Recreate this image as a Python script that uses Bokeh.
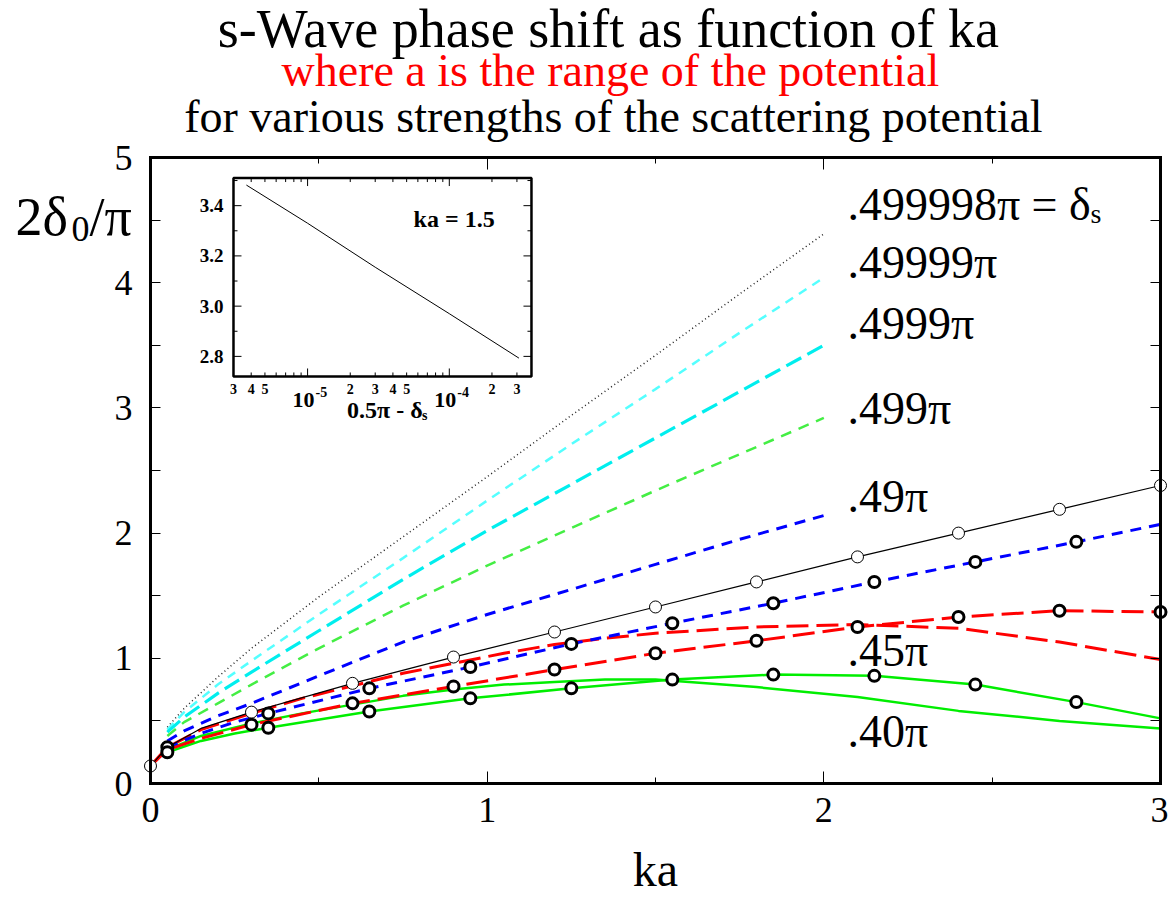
import numpy as np
from bokeh.plotting import figure
from bokeh.models import (Range1d, LinearAxis, FixedTicker, CoordinateMapping,
                          LogScale, LinearScale)
from bokeh.core.properties import value
from bokeh.embed import file_html
from bokeh.resources import INLINE

# ---------------- data ----------------
ka_upper = [0.05, 0.1, 0.2, 0.3, 0.5, 0.75, 1.0, 1.25, 1.5, 1.75, 2.0]
y_499998 = [0.45, 0.60, 0.85, 1.08, 1.49, 1.97, 2.45, 2.94, 3.42, 3.91, 4.39]
y_49999 = [0.43, 0.57, 0.79, 0.98, 1.35, 1.80, 2.26, 2.71, 3.15, 3.60, 4.04]
y_4999 = [0.41, 0.53, 0.72, 0.89, 1.22, 1.63, 2.02, 2.39, 2.76, 3.13, 3.50]
y_499 = [0.38, 0.49, 0.64, 0.79, 1.08, 1.42, 1.74, 2.04, 2.34, 2.63, 2.92]
y_49 = [0.34, 0.42, 0.54, 0.64, 0.86, 1.13, 1.35, 1.55, 1.75, 1.95, 2.14]

ka_black = [0, 0.05, 0.15, 0.3, 0.6, 0.9, 1.2, 1.5, 1.8, 2.1, 2.4, 2.7, 3.0]
y_black = [0.14, 0.29, 0.44, 0.57, 0.80, 1.01, 1.21, 1.41, 1.61, 1.81, 2.00, 2.19, 2.38]
ka_black_pts = [0, 0.3, 0.6, 0.9, 1.2, 1.5, 1.8, 2.1, 2.4, 2.7, 3.0]
y_black_pts = [0.14, 0.57, 0.80, 1.01, 1.21, 1.41, 1.61, 1.81, 2.00, 2.19, 2.38]

ka_blue = [0.05, 0.15, 0.25, 0.35, 0.65, 0.95, 1.25, 1.55, 1.85, 2.15, 2.45, 2.75, 3.0]
y_blue = [0.29, 0.40, 0.49, 0.56, 0.76, 0.93, 1.115, 1.28, 1.44, 1.61, 1.77, 1.93, 2.07]
ka_blue_pts = [0.05, 0.35, 0.65, 0.95, 1.25, 1.55, 1.85, 2.15, 2.45, 2.75]
y_blue_pts = [0.29, 0.56, 0.76, 0.93, 1.115, 1.28, 1.44, 1.61, 1.77, 1.93]

ka_red_c = [0, 0.05, 0.15, 0.3, 0.6, 0.9, 1.2, 1.5, 1.8, 2.1, 2.4, 2.7, 3.0]
y_red_c = [0.14, 0.27, 0.36, 0.47, 0.64, 0.775, 0.91, 1.04, 1.14, 1.25, 1.33, 1.38, 1.37]
ka_red_pts = [0.3, 0.6, 0.9, 1.2, 1.5, 1.8, 2.1, 2.4, 2.7, 3.0]
y_red_pts = [0.47, 0.64, 0.775, 0.91, 1.04, 1.14, 1.25, 1.33, 1.38, 1.37]

ka_red_u = [0, 0.05, 0.15, 0.3, 0.45, 0.6, 0.75, 0.9, 1.05, 1.2, 1.35, 1.5, 1.8, 2.1, 2.4, 2.7, 3.0]
y_red_u = [0.14, 0.29, 0.43, 0.56, 0.68, 0.78, 0.88, 0.96, 1.04, 1.11, 1.16, 1.20, 1.25, 1.27, 1.24, 1.13, 0.99]

ka_green_c = [0.05, 0.15, 0.25, 0.35, 0.65, 0.95, 1.25, 1.55, 1.85, 2.15, 2.45, 2.75, 3.0]
y_green_c = [0.25, 0.34, 0.40, 0.445, 0.575, 0.68, 0.76, 0.83, 0.87, 0.86, 0.79, 0.65, 0.52]
ka_green_pts = [0.05, 0.35, 0.65, 0.95, 1.25, 1.55, 1.85, 2.15, 2.45, 2.75]
y_green_pts = [0.25, 0.445, 0.575, 0.68, 0.76, 0.83, 0.87, 0.86, 0.79, 0.65]

ka_green_u = [0.05, 0.15, 0.3, 0.45, 0.6, 0.75, 0.9, 1.05, 1.2, 1.35, 1.5, 1.8, 2.1, 2.4, 2.7, 3.0]
y_green_u = [0.27, 0.38, 0.48, 0.56, 0.63, 0.70, 0.75, 0.79, 0.81, 0.83, 0.83, 0.77, 0.69, 0.58, 0.50, 0.44]

curve_labels = [".499998\u03c0 = \u03b4", ".49999\u03c0", ".4999\u03c0", ".499\u03c0", ".49\u03c0", ".45\u03c0", ".40\u03c0"]

x_ticks = [0, 1, 2, 3]
x_minor = [0.5, 1.5, 2.5]
y_ticks = [0, 1, 2, 3, 4, 5]
y_minor = [0.5, 1.5, 2.5, 3.5, 4.5]

# inset: 2*delta0/pi at ka = 1.5 versus 0.5*pi - delta_s
inset_x = [3.7e-6, 1e-5, 3e-5, 1e-4, 3.1e-4]
inset_y = [3.482, 3.33, 3.155, 2.97, 2.793]
inset_xmajor = [1e-5, 1e-4]
inset_xminor = [3e-6, 4e-6, 5e-6, 6e-6, 7e-6, 8e-6, 9e-6,
                2e-5, 3e-5, 4e-5, 5e-5, 6e-5, 7e-5, 8e-5, 9e-5, 2e-4, 3e-4]
inset_xlab_pos = [3e-6, 4e-6, 5e-6, 2e-5, 3e-5, 4e-5, 5e-5, 2e-4, 3e-4]
inset_xlab = ["3", "4", "5", "2", "3", "4", "5", "2", "3"]
inset_dec_lab = ["-5", "-4"]
inset_ymajor = [2.8, 3.0, 3.2, 3.4]
inset_ylab = ["2.8", "3.0", "3.2", "3.4"]
inset_yminor = [2.9, 3.1, 3.3, 3.5]

FONT = "Liberation Serif"
MID = 0.3375   # distance (in em) between the text box middle and the alphabetic baseline

# ---------------- figure: frame fills the canvas, axes sit at fixed data locations ----------------
X_LO, X_HI = -150 / 336.67, 3 + 8 / 336.67
Y_LO, Y_HI = -115 / 125.2, 5 + 157 / 125.2
p = figure(width=1168, height=898, x_range=Range1d(X_LO, X_HI), y_range=Range1d(Y_LO, Y_HI),
           output_backend="svg", toolbar_location=None,
           x_axis_location=None, y_axis_location=None, min_border=0)
p.grid.visible = False
p.outline_line_color = None
p.background_fill_color = "white"
p.border_fill_color = "white"

xt = FixedTicker(ticks=x_ticks, minor_ticks=x_minor)
yt = FixedTicker(ticks=y_ticks, minor_ticks=y_minor)


def make_axis(loc, side, ticker, bounds, labels, major_in, minor_in, standoff):
    ax = LinearAxis(fixed_location=loc, bounds=bounds, ticker=ticker)
    ax.axis_line_width = 3
    ax.axis_line_color = "black"
    ax.axis_line_cap = "square"
    ax.major_tick_in = major_in
    ax.major_tick_out = 0
    ax.minor_tick_in = minor_in
    ax.minor_tick_out = 0
    ax.major_tick_line_color = "black"
    ax.minor_tick_line_color = "black"
    ax.major_label_text_font = FONT
    ax.major_label_standoff = standoff
    if labels:
        ax.major_label_text_font_size = "36px"
        ax.major_label_text_color = "black"
    else:
        ax.major_label_text_font_size = "0px"
        ax.major_label_text_color = None
        ax.major_label_standoff = 0
    p.add_layout(ax, side)
    return ax


make_axis(0, "below", xt, (0, 3), True, 12, 6, 14)
make_axis(5, "above", xt, (0, 3), False, 12, 6, 0)
make_axis(0, "left", yt, (0, 5), True, 10, 10, 18)
make_axis(3, "right", yt, (0, 5), False, 10, 10, 0)


def txt(x, y, text, size, color="black", align="left", xo=0, yo=0, bold=False, coords=None):
    """Text whose baseline sits at (x, y) shifted by yo px downwards."""
    r = p.text(x=x, y=y, text=text, text_font=value(FONT), text_font_size="%dpx" % size,
               text_font_style="bold" if bold else "normal", text_color=color,
               text_align=align, text_baseline="middle",
               x_offset=xo, y_offset=yo - MID * size)
    if coords is not None:
        r.coordinates = coords
    return r


# ---------------- curves ----------------
p.line(ka_upper, y_499998, line_color="#222222", line_width=1.5, line_dash="1 3")
p.line(ka_upper, y_49999, line_color="#55ffff", line_width=2.5, line_dash="9 7")
p.line(ka_upper, y_4999, line_color="#00eeee", line_width=3.2, line_dash="17 7")
p.line(ka_upper, y_499, line_color="#44ee44", line_width=2.5, line_dash="11 8")
p.line(ka_upper, y_49, line_color="#0000ff", line_width=3, line_dash="11 8")

p.line(ka_green_u, y_green_u, line_color="#00ee00", line_width=2.5)
p.line(ka_green_c, y_green_c, line_color="#00ee00", line_width=2.5)
p.line(ka_red_u, y_red_u, line_color="#ff0000", line_width=3, line_dash="22 8")
p.line(ka_red_c, y_red_c, line_color="#ff0000", line_width=3, line_dash="22 8")
p.line(ka_blue, y_blue, line_color="#0000ff", line_width=3, line_dash="11 8")
p.line(ka_black, y_black, line_color="black", line_width=1.2)

p.scatter(ka_black_pts, y_black_pts, size=12, fill_color="white", line_color="black", line_width=1)
for kx, ky in [(ka_blue_pts, y_blue_pts), (ka_red_pts, y_red_pts), (ka_green_pts, y_green_pts)]:
    p.scatter(kx, ky, size=11, fill_color="white", line_color="black", line_width=3)

# curve labels (text positions are layout constants)
lab_y = [4.50, 4.04, 3.55, 2.875, 2.17, 0.94, 0.29]
txt([2.07] * len(curve_labels), lab_y, curve_labels, 46)
txt([2.07], [4.50], ["s"], 28, xo=243, yo=3)

# ---------------- inset (own sub-coordinate system) ----------------
ixr = Range1d(3e-6, 3.8e-4)
iyr = Range1d(2.72, 3.51)
cm = CoordinateMapping(x_source=ixr, y_source=iyr, x_scale=LogScale(), y_scale=LinearScale(),
                       x_target=Range1d(0.2465, 1.1316), y_target=Range1d(3.251, 4.836))


def sub(r):
    r.coordinates = cm
    return r


sub(p.quad(left=[ixr.start], right=[ixr.end], bottom=[iyr.start], top=[iyr.end],
           fill_color="white", line_color="black", line_width=2.5))
sub(p.line(inset_x, inset_y, line_color="black", line_width=1))

n = len(inset_xmajor)
m = len(inset_xminor)
sub(p.ray(x=inset_xmajor, y=[iyr.start] * n, length=8, length_units="screen", angle=np.pi / 2, line_color="black"))
sub(p.ray(x=inset_xmajor, y=[iyr.end] * n, length=8, length_units="screen", angle=-np.pi / 2, line_color="black"))
sub(p.ray(x=inset_xminor, y=[iyr.start] * m, length=4, length_units="screen", angle=np.pi / 2, line_color="black"))
sub(p.ray(x=inset_xminor, y=[iyr.end] * m, length=4, length_units="screen", angle=-np.pi / 2, line_color="black"))
k = len(inset_ymajor)
sub(p.ray(x=[ixr.start] * k, y=inset_ymajor, length=8, length_units="screen", angle=0, line_color="black"))
sub(p.ray(x=[ixr.end] * k, y=inset_ymajor, length=8, length_units="screen", angle=np.pi, line_color="black"))
sub(p.ray(x=[ixr.start] * 4, y=inset_yminor, length=4, length_units="screen", angle=0, line_color="black"))
sub(p.ray(x=[ixr.end] * 4, y=inset_yminor, length=4, length_units="screen", angle=np.pi, line_color="black"))

sub(p.text(x=[ixr.start] * k, y=inset_ymajor, text=inset_ylab, text_font=value(FONT),
           text_font_size="19px", text_font_style="bold", text_align="right",
           text_baseline="middle", x_offset=-10))
txt(inset_xlab_pos, [iyr.start] * len(inset_xlab), inset_xlab, 14, align="center", yo=17, bold=True, coords=cm)
txt(inset_xmajor, [iyr.start] * n, ["10"] * n, 22, align="right", xo=7, yo=31, bold=True, coords=cm)
txt(inset_xmajor, [iyr.start] * n, inset_dec_lab, 14, xo=8, yo=20, bold=True, coords=cm)
txt([1.9e-5], [iyr.start], ["0.5\u03c0 - \u03b4"], 24, yo=42, bold=True, coords=cm)
txt([1.9e-5], [iyr.start], ["s"], 14, xo=75, yo=44, bold=True, coords=cm)
txt([5.6e-5], [3.314], ["ka = 1.5"], 24, bold=True, coords=cm)

# ---------------- titles & axis labels (text glyphs in data space) ----------------
txt([1.36], [5.88], ["s-Wave phase shift as function of ka"], 54, align="center")
txt([1.366], [5.567], ["where a is the range of the potential"], 46, color="#ff0000", align="center")
txt([1.375], [5.202], ["for various strengths of the scattering potential"], 46, align="center")
txt([1.5], [-0.815], ["ka"], 48, align="center")
txt([-0.401], [4.377], ["2\u03b4"], 54)
txt([-0.401], [4.377], ["0"], 36, xo=56, yo=6)
txt([-0.401], [4.377], ["/\u03c0"], 54, xo=74)

open("out.html", "w").write(file_html(p, INLINE))
